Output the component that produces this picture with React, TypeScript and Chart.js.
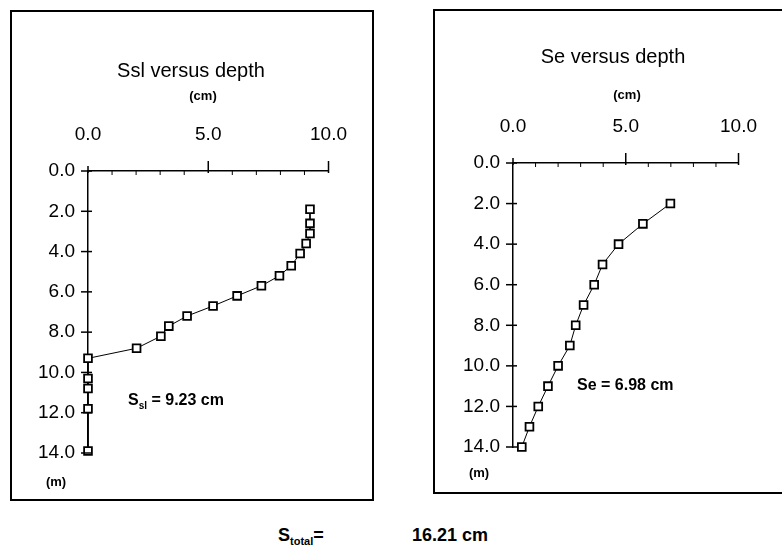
import React, { useEffect, useRef } from "react";
import { Chart, registerables } from "chart.js";

Chart.register(...registerables);

// ---------- data ----------
const depthTicks = [0, 2, 4, 6, 8, 10, 12, 14];
const xMajorTicks = [0, 5, 10];
const xMinorTicks = [1, 2, 3, 4, 6, 7, 8, 9];

const sslDepth = [1.9, 2.6, 3.1, 3.6, 4.1, 4.7, 5.2, 5.7, 6.2, 6.7, 7.2, 7.7, 8.2, 8.8, 9.3, 10.3, 10.8, 11.8, 13.9];
const sslValues = [9.23, 9.23, 9.23, 9.07, 8.82, 8.45, 7.96, 7.21, 6.2, 5.2, 4.12, 3.36, 3.03, 2.02, 0, 0, 0, 0, 0];

const seDepth = [2, 3, 4, 5, 6, 7, 8, 9, 10, 11, 12, 13, 14];
const seValues = [6.98, 5.76, 4.68, 3.97, 3.6, 3.13, 2.78, 2.52, 2.0, 1.55, 1.12, 0.73, 0.39];

const sslTitle = "Ssl versus depth";
const seTitle = "Se versus depth";
const xUnit = "(cm)";
const yUnit = "(m)";
const sslNote = { main: "S", sub: "sl", rest: " = 9.23 cm" };
const seNote = { main: "Se", sub: "", rest: " = 6.98 cm" };
const totalLabel = { main: "S", sub: "total", rest: "=" };
const totalValue = "16.21 cm";

const FONT = "'Liberation Sans', Arial, Helvetica, sans-serif";

type Panel = {
  depth: number[];
  values: number[];
  title: string;
  note: { main: string; sub: string; rest: string };
  origin: [number, number];
  size: [number, number];
  area: [number, number, number, number]; // page L,T,R,B
  titlePos: [number, number];
  unitXPos: [number, number];
  unitYPos: [number, number];
  notePos: [number, number];
};

const leftPanel: Panel = {
  depth: sslDepth,
  values: sslValues,
  title: sslTitle,
  note: sslNote,
  origin: [12, 12],
  size: [360, 487],
  area: [88, 171, 329, 453],
  titlePos: [191, 77],
  unitXPos: [203, 100],
  unitYPos: [56, 486],
  notePos: [128, 405],
};

const rightPanel: Panel = {
  depth: seDepth,
  values: seValues,
  title: seTitle,
  note: seNote,
  origin: [435, 11],
  size: [347, 481],
  area: [513, 163, 750, 447],
  titlePos: [613, 63],
  unitXPos: [627, 99],
  unitYPos: [479, 477],
  notePos: [577, 390],
};

const AXIS_W = 64;
const AXIS_H = 52;

function makeDecor(p: Panel) {
  return {
    id: "decor",
    afterDraw(chart: any) {
      const { ctx } = chart;
      const xs = chart.scales.x;
      const ys = chart.scales.y;
      const ox = p.origin[0];
      const oy = p.origin[1];
      ctx.save();
      ctx.strokeStyle = "#000";
      ctx.lineWidth = 1.5;
      const top = ys.getPixelForValue(0);
      const left = xs.getPixelForValue(0);
      const line = (a: number, b: number, c: number, d: number) => {
        ctx.beginPath();
        ctx.moveTo(a, b);
        ctx.lineTo(c, d);
        ctx.stroke();
      };
      xMajorTicks.forEach((v) => {
        const px = xs.getPixelForValue(v);
        line(px, top - (v === 0 ? 5 : 10), px, top + 2);
      });
      ctx.lineWidth = 1;
      xMinorTicks.forEach((v) => {
        const px = xs.getPixelForValue(v);
        line(px, top, px, top + 4);
      });
      ctx.lineWidth = 1.5;
      depthTicks.forEach((v) => {
        const py = ys.getPixelForValue(v);
        line(left - 7, py, left + 4, py);
      });

      ctx.fillStyle = "#000";
      ctx.textBaseline = "alphabetic";
      ctx.textAlign = "center";
      ctx.font = `20px ${FONT}`;
      ctx.fillText(p.title, p.titlePos[0] - ox, p.titlePos[1] - oy);
      ctx.font = `bold 13px ${FONT}`;
      ctx.fillText(xUnit, p.unitXPos[0] - ox, p.unitXPos[1] - oy);
      ctx.fillText(yUnit, p.unitYPos[0] - ox, p.unitYPos[1] - oy);

      // annotation
      ctx.textAlign = "left";
      let nx = p.notePos[0] - ox;
      const ny = p.notePos[1] - oy;
      ctx.font = `bold 16px ${FONT}`;
      ctx.fillText(p.note.main, nx, ny);
      nx += ctx.measureText(p.note.main).width;
      if (p.note.sub) {
        ctx.font = `bold 10px ${FONT}`;
        ctx.fillText(p.note.sub, nx, ny + 4);
        nx += ctx.measureText(p.note.sub).width;
      }
      ctx.font = `bold 16px ${FONT}`;
      ctx.fillText(p.note.rest, nx, ny);
      ctx.restore();
    },
  };
}

function makeConfig(p: Panel): any {
  const [ox, oy] = p.origin;
  const [W, H] = p.size;
  const [L, T, R, B] = p.area;
  const padding = {
    left: L - ox - AXIS_W,
    top: T - oy - AXIS_H,
    right: W - (R - ox),
    bottom: H - (B - oy),
  };
  const tickFont = { family: FONT, size: 19 };
  return {
    type: "scatter",
    data: {
      datasets: [
        {
          data: p.values.map((v, i) => ({ x: v, y: p.depth[i] })),
          showLine: true,
          borderColor: "#000",
          borderWidth: 1,
          pointStyle: "rect",
          pointRadius: 5.5,
          pointBorderWidth: 1.8,
          pointBackgroundColor: "#fff",
          pointBorderColor: "#000",
          clip: false,
        },
      ],
    },
    options: {
      animation: false,
      responsive: false,
      maintainAspectRatio: false,
      devicePixelRatio: 1,
      events: [],
      layout: { padding },
      plugins: {
        legend: { display: false },
        tooltip: { enabled: false },
        title: { display: false },
      },
      scales: {
        x: {
          type: "linear",
          position: "top",
          min: 0,
          max: 10,
          afterBuildTicks: (s: any) => {
            s.ticks = xMajorTicks.map((v) => ({ value: v }));
          },
          afterFit: (s: any) => {
            s.height = AXIS_H;
          },
          ticks: {
            callback: (v: any) => Number(v).toFixed(1),
            font: tickFont,
            color: "#000",
            padding: 25,
            maxRotation: 0,
            autoSkip: false,
          },
          grid: { display: true, drawOnChartArea: false, drawTicks: false, color: "rgba(0,0,0,0)" },
          border: { display: true, color: "#000", width: 1.5 },
        },
        y: {
          type: "linear",
          reverse: true,
          min: 0,
          max: 14,
          afterBuildTicks: (s: any) => {
            s.ticks = depthTicks.map((v) => ({ value: v }));
          },
          afterFit: (s: any) => {
            s.width = AXIS_W;
          },
          ticks: {
            callback: (v: any) => Number(v).toFixed(1),
            font: tickFont,
            color: "#000",
            padding: 13,
            autoSkip: false,
          },
          grid: { display: true, drawOnChartArea: false, drawTicks: false, color: "rgba(0,0,0,0)" },
          border: { display: true, color: "#000", width: 1.5 },
        },
      },
    },
    plugins: [makeDecor(p)],
  };
}

function PanelChart({ p }: { p: Panel }) {
  const ref = useRef<HTMLCanvasElement | null>(null);
  useEffect(() => {
    if (!ref.current) return;
    const chart = new Chart(ref.current, makeConfig(p));
    return () => chart.destroy();
  }, [p]);
  return (
    <canvas
      ref={ref}
      width={p.size[0]}
      height={p.size[1]}
      style={{ position: "absolute", left: 0, top: 0, width: p.size[0], height: p.size[1] }}
    />
  );
}

export default function App() {
  const boldText: React.CSSProperties = {
    position: "absolute",
    fontFamily: FONT,
    fontWeight: "bold",
    fontSize: 18,
    lineHeight: "18px",
    whiteSpace: "nowrap",
    color: "#000",
  };
  return (
    <div
      style={{
        position: "fixed",
        left: 0,
        top: 0,
        width: 782,
        height: 552,
        overflow: "hidden",
        background: "#fff",
      }}
    >
      <div
        style={{
          position: "absolute",
          left: 10,
          top: 10,
          width: 364,
          height: 491,
          border: "2px solid #000",
          boxSizing: "border-box",
        }}
      >
        <PanelChart p={leftPanel} />
      </div>
      <div
        style={{
          position: "absolute",
          left: 433,
          top: 9,
          width: 400,
          height: 485,
          borderTop: "2px solid #000",
          borderLeft: "2px solid #000",
          borderBottom: "2px solid #000",
          boxSizing: "border-box",
        }}
      >
        <PanelChart p={rightPanel} />
      </div>
      <div style={{ ...boldText, left: 278, top: 526 }}>
        {totalLabel.main}
        <span style={{ fontSize: 11, position: "relative", top: 4 }}>{totalLabel.sub}</span>
        {totalLabel.rest}
      </div>
      <div style={{ ...boldText, left: 412, top: 526 }}>{totalValue}</div>
    </div>
  );
}
